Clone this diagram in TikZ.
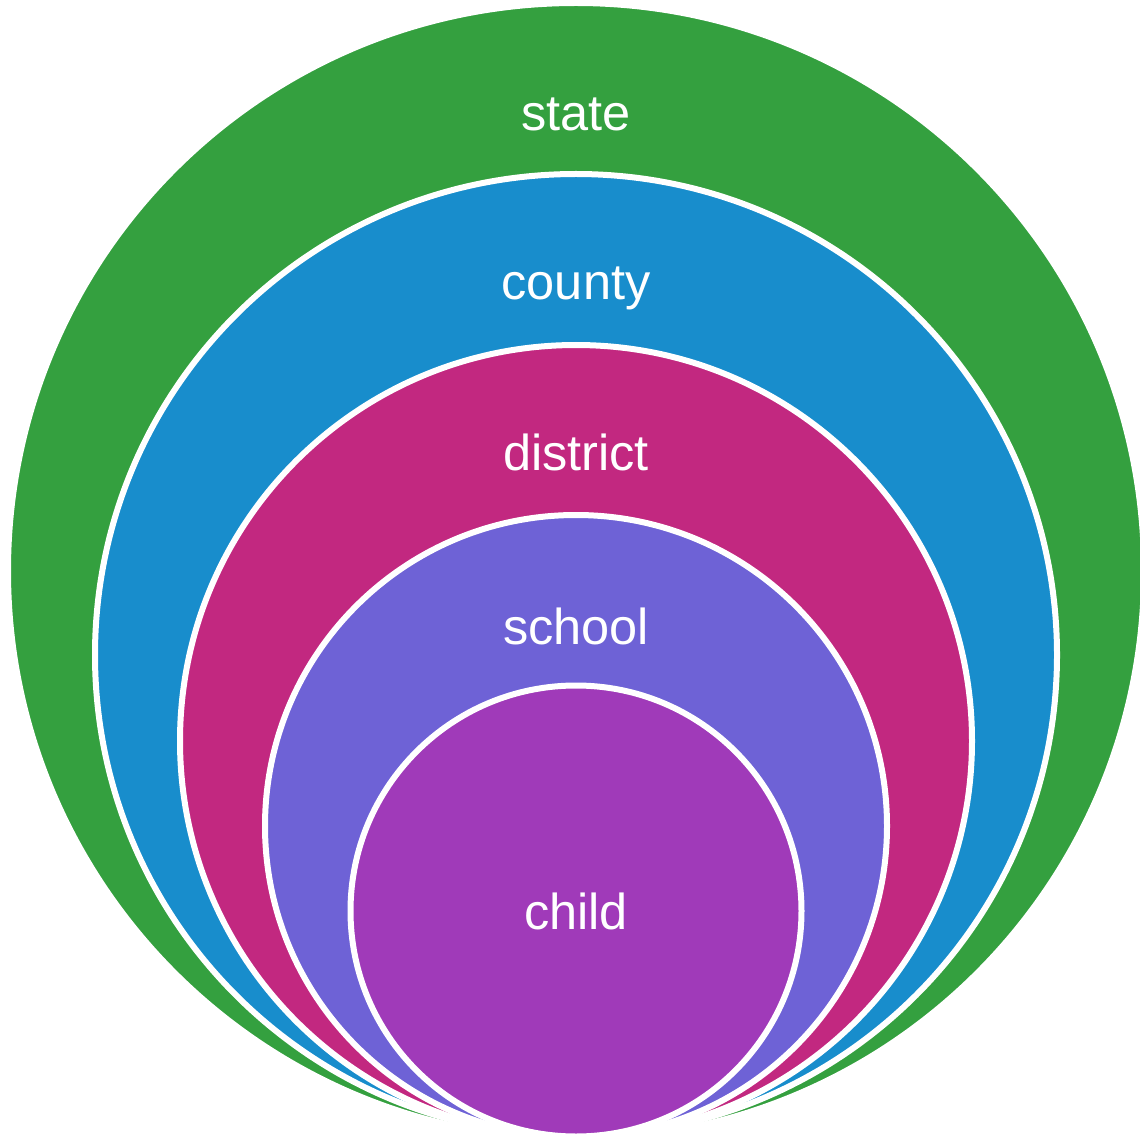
\documentclass[tikz,border=0pt]{standalone}
\usepackage{fontspec}
\setmainfont{Liberation Sans}

\definecolor{statecol}{HTML}{34A03F}
\definecolor{countycol}{HTML}{188DCC}
\definecolor{districtcol}{HTML}{C22880}
\definecolor{schoolcol}{HTML}{6E62D6}
\definecolor{childcol}{HTML}{A03AB9}

\begin{document}
\begin{tikzpicture}[x=1pt, y=-1pt,
    ring/.style={draw=white, line width=6pt},
    lbl/.style={text=white, inner sep=0pt, anchor=base,
      font=\fontsize{50.5}{58}\selectfont}]
  \useasboundingbox (0,0) rectangle (1140,1139);
  \def\cx{576}
  % nested rings, all touching at the bottom
  \filldraw[ring, fill=statecol]    (\cx,571) circle[radius=568];
  \filldraw[ring, fill=countycol]   (\cx,655) circle[radius=481];
  \filldraw[ring, fill=districtcol] (\cx,741) circle[radius=396];
  \filldraw[ring, fill=schoolcol]   (\cx,826) circle[radius=311];
  \filldraw[ring, fill=childcol]    (\cx,911) circle[radius=225.5];
  % labels
  \node[lbl] (state)    at (\cx,131) {state};
  \node[lbl] (county)   at (\cx,300) {county};
  \node[lbl] (district) at (\cx,470) {district};
  \node[lbl] (school)   at (\cx,644) {school};
  \node[lbl] (child)    at (\cx,929) {child};
\end{tikzpicture}
\end{document}
